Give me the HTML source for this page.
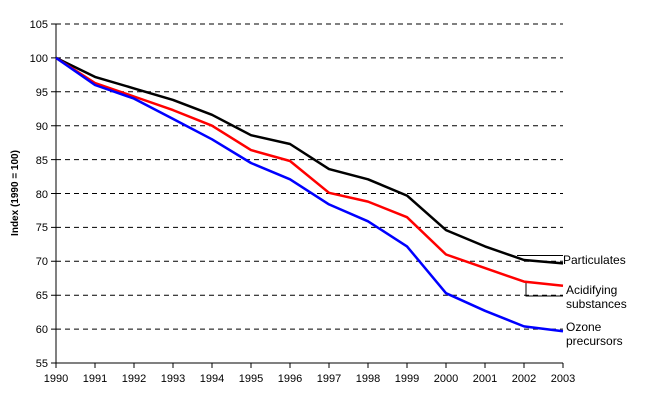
<!DOCTYPE html>
<html><head><style>body{margin:0;background:#fff}svg text{font-family:"Liberation Sans",sans-serif;font-size:11px;fill:#000}</style></head>
<body>
<svg width="650" height="411" xmlns="http://www.w3.org/2000/svg">
<g stroke="#000" stroke-width="1" stroke-dasharray="5,4">
<line x1="56" x2="563" y1="24" y2="24"/><line x1="56" x2="563" y1="57.9" y2="57.9"/><line x1="56" x2="563" y1="91.8" y2="91.8"/><line x1="56" x2="563" y1="125.7" y2="125.7"/><line x1="56" x2="563" y1="159.6" y2="159.6"/><line x1="56" x2="563" y1="193.5" y2="193.5"/><line x1="56" x2="563" y1="227.4" y2="227.4"/><line x1="56" x2="563" y1="261.3" y2="261.3"/><line x1="56" x2="563" y1="295.2" y2="295.2"/><line x1="56" x2="563" y1="329.1" y2="329.1"/>
</g>
<g stroke="#000" stroke-width="1">
<line x1="56" y1="24" x2="56" y2="363"/><line x1="56" y1="363" x2="563" y2="363"/>
<path d="M51 24h5M51 57.9h5M51 91.8h5M51 125.7h5M51 159.6h5M51 193.5h5M51 227.4h5M51 261.3h5M51 295.2h5M51 329.1h5M51 363h5"/>
<path d="M56 363v5M95 363v5M134 363v5M173 363v5M212 363v5M251 363v5M290 363v5M329 363v5M368 363v5M407 363v5M446 363v5M485 363v5M524 363v5M563 363v5"/>
<path d="M517 255.5H563M526 282V296H563" fill="none"/>
</g>
<g text-anchor="end">
<text x="48" y="28">105</text><text x="48" y="62">100</text><text x="48" y="96">95</text><text x="48" y="130">90</text><text x="48" y="164">85</text><text x="48" y="198">80</text><text x="48" y="231">75</text><text x="48" y="265">70</text><text x="48" y="299">65</text><text x="48" y="333">60</text><text x="48" y="367">55</text>
</g>
<g text-anchor="middle">
<text x="56" y="382">1990</text><text x="95" y="382">1991</text><text x="134" y="382">1992</text><text x="173" y="382">1993</text><text x="212" y="382">1994</text><text x="251" y="382">1995</text><text x="290" y="382">1996</text><text x="329" y="382">1997</text><text x="368" y="382">1998</text><text x="407" y="382">1999</text><text x="446" y="382">2000</text><text x="485" y="382">2001</text><text x="524" y="382">2002</text><text x="563" y="382">2003</text>
</g>
<text transform="translate(18,193) rotate(-90)" text-anchor="middle" style="font-weight:bold;font-size:10px">Index (1990 = 100)</text>
<g fill="none" stroke-width="2.5" stroke-linejoin="round">
<polyline stroke="#000" points="56,57.9 95,76.9 134,88.4 173,99.9 212,114.8 251,135.2 290,144 329,169.1 368,179.3 407,195.6 446,230.1 485,246.4 524,260 563,263.4"/>
<polyline stroke="#f00" points="56,57.9 95,83 134,96.5 173,110.1 212,125.7 251,150.1 290,161 329,192.8 368,201.6 407,217.2 446,254.5 485,268.1 524,281.6 563,285.7"/>
<polyline stroke="#00f" points="56,57.9 95,85 134,98.6 173,118.9 212,139.3 251,163 290,179.3 329,204.4 368,221.3 407,246.4 446,293.2 485,310.8 524,326.4 563,331.2"/>
</g>
<g style="font-size:12px">
<text x="563" y="264" style="font-size:12px">Particulates</text>
<text x="566" y="294" style="font-size:12px">Acidifying</text><text x="566" y="308" style="font-size:12px">substances</text>
<text x="566" y="331" style="font-size:12px">Ozone</text><text x="566" y="345" style="font-size:12px">precursors</text>
</g>
</svg>
</body></html>
